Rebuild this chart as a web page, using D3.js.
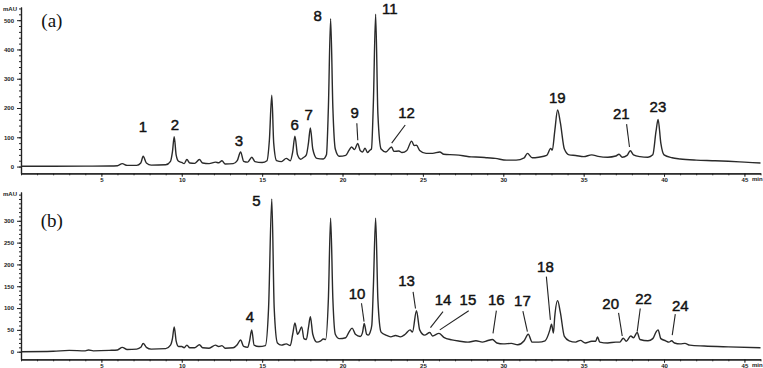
<!DOCTYPE html>
<html>
<head>
<meta charset="utf-8">
<script src="https://cdn.jsdelivr.net/npm/d3@7"></script>
<style>
  body { margin: 0; background: #fff; }
  .svg { display: block; }
  .tickText { font-family: "Liberation Sans", Arial, sans-serif; font-size: 6px; font-weight: bold; fill: #222; }
  .peakLabel { font-family: "Liberation Sans", Arial, sans-serif; font-size: 15px; fill: #111; stroke: #111; stroke-width: 0.45px; }
  .panelLabel { font-family: "Liberation Serif", "Times New Roman", serif; font-size: 19px; fill: #111; }
</style>
</head>
<body>
<svg class="svg" width="763" height="368"></svg>
<script>
// chromatogram (a): [time min, mAU]
let traceA = [[0,1],[2,1],[4,1.5],[5.5,2],[6.0,3],[6.3,10],[6.6,4],[7.2,4],[7.45,12],[7.6,35],[7.8,12],[8.1,5],
  [9.0,6],[9.3,18],[9.42,50],[9.53,102],[9.65,40],[9.8,18],[10.0,14],[10.15,10],[10.32,24],[10.5,12],[10.8,11],
  [11.1,24],[11.3,12],[11.7,10],[12.1,15],[12.3,13],[12.5,20],[12.7,9],[13.2,10],[13.45,20],[13.66,50],[13.85,18],
  [14.1,15],[14.36,32],[14.55,17],[15.0,14],[15.3,20],[15.45,90],[15.6,244],[15.72,80],[15.9,20],[16.2,17],
  [16.5,28],[16.75,20],[16.9,50],[17.04,104],[17.2,40],[17.4,25],[17.55,30],[17.75,40],[17.88,80],[18.0,132],
  [18.15,60],[18.4,28],[18.8,26],[19.0,40],[19.12,200],[19.26,505],[19.4,200],[19.55,60],[19.8,35],[20.2,38],
  [20.4,55],[20.56,67],[20.75,58],[20.94,79],[21.1,55],[21.25,50],[21.4,63],[21.55,48],[21.7,56],[21.8,60],
  [21.92,220],[22.06,520],[22.2,180],[22.4,60],[22.7,50],[23.05,67],[23.2,52],[23.5,53],[23.7,48],[24.0,55],
  [24.3,87],[24.45,72],[24.6,73],[24.8,55],[25.2,45],[25.6,45],[26.05,50],[26.3,42],[27,40],[27.5,37],[28,33],
  [28.6,32],[29,30],[29.5,28],[30.2,22],[30.8,22],[31.3,30],[31.5,45],[31.8,30],[32.2,32],[32.7,38],[32.95,62],
  [33.05,56],[33.2,120],[33.38,193],[33.55,150],[33.8,60],[34.1,40],[34.5,38],[35,34],[35.5,40],[35.9,35],
  [36.5,32],[37.0,36],[37.2,42],[37.4,32],[37.7,38],[37.9,54],[38.1,40],[38.5,34],[39.0,32],[39.3,40],[39.5,120],
  [39.63,161],[39.8,80],[40.0,40],[40.5,30],[41,26],[42,22],[43,20],[44,18],[45,15],[46,12]];

// chromatogram (b)
let traceB = [[0,0],[2,1],[3,3],[4,2],[4.2,4],[4.5,2],[5.5,3],[6.0,4],[6.3,10],[6.6,5],[7.2,6],[7.45,10],[7.6,19],
  [7.8,10],[8.1,6],[9.0,7],[9.3,15],[9.42,30],[9.53,57],[9.65,25],[9.8,12],[10.0,12],[10.15,9],[10.32,15],[10.5,9],
  [10.8,9],[11.1,16],[11.3,9],[11.7,8],[12.1,15],[12.3,12],[12.5,14],[12.7,8],[13.2,9],[13.45,16],[13.66,27],
  [13.85,12],[14.1,10],[14.22,25],[14.35,50],[14.5,15],[14.8,12],[15.2,14],[15.4,100],[15.6,350],[15.75,100],
  [15.95,20],[16.2,15],[16.5,18],[16.75,14],[16.9,40],[17.04,66],[17.2,40],[17.3,45],[17.46,57],[17.6,30],
  [17.75,28],[17.88,55],[18.0,80],[18.15,40],[18.4,22],[18.65,25],[18.8,29],[18.95,28],[19.12,120],[19.26,306],
  [19.4,120],[19.55,40],[19.8,30],[20.2,32],[20.4,45],[20.6,54],[20.8,40],[21.1,35],[21.25,45],[21.35,65],
  [21.5,40],[21.6,38],[21.7,43],[21.82,60],[21.92,150],[22.06,306],[22.2,120],[22.4,45],[22.7,38],[23.0,34],
  [23.3,37],[23.6,34],[23.9,40],[24.2,50],[24.35,45],[24.6,94],[24.8,50],[25.1,38],[25.43,44],[25.6,36],
  [26.0,42],[26.3,33],[26.8,27],[27.3,24],[27.8,22],[28.3,25],[28.7,22],[29.0,25],[29.33,28],[29.6,20],
  [30.0,18],[30.5,19],[30.9,16],[31.3,25],[31.55,40],[31.8,22],[32.2,22],[32.6,25],[32.9,50],[33.0,63],
  [33.12,43],[33.2,80],[33.38,117],[33.55,90],[33.8,35],[34.1,25],[34.5,22],[34.8,26],[35.1,20],[35.5,24],
  [35.75,24],[35.86,34],[36.0,22],[36.5,20],[37.0,22],[37.25,22],[37.46,31],[37.65,24],[37.93,36],[38.1,32],
  [38.33,44],[38.5,28],[39.0,25],[39.3,30],[39.5,45],[39.63,50],[39.8,30],[40.1,25],[40.3,22],[40.47,25],
  [40.65,20],[41.0,18],[41.3,19],[41.6,15],[42.5,13],[44,11],[46,9]];

// peak numbers: [text, time, mAU]
let labelsA = [['1',7.58,135],['2',9.57,142],['3',13.55,90],['6',17.03,142],['7',17.9,179],['8',18.46,515],
  ['9',20.76,183],['11',22.94,538],['12',23.98,184],['19',33.36,235],['21',37.34,182],['23',39.62,204]];
let labelsB = [['4',14.24,80],['5',14.65,346],['10',20.9,134],['13',23.98,163],['14',26.25,120],['15',27.8,120],
  ['16',29.57,120],['17',31.19,118],['18',32.62,195],['20',36.68,111],['22',38.73,122],['24',41.01,105]];

// leader lines: [t1, v1, t2, v2]
let leadersA = [[20.89,148,20.95,90],[23.9,142,23.06,80],[37.67,145,37.85,67]];
let leadersB = [[21.18,111,21.34,69],[24.39,137,24.54,99],[26.25,92,25.47,55],[27.85,94,26.05,50],
  [29.57,94,29.36,42],[31.22,93,31.5,46],[32.68,172,32.93,73],[37.17,89,37.4,36],[38.52,99,38.33,46],
  [40.7,86,40.51,38]];

let xTicks = [5,10,15,20,25,30,35,40,45];
let yTicksA = [0,100,200,300,400,500];
let yTicksB = [0,50,100,150,200,250,300];

let svg = d3.select('.svg');
let x = d3.scaleLinear().domain([0, 46]).range([21, 760.5]);

function drawPanel(trace, labels, leaders, yTicks, minorStep, yDomain, yRange, name) {
    let y = d3.scaleLinear().domain(yDomain).range(yRange);
    let g = svg.append('g').attr('class', 'panel');

    // minor y ticks
    g.append('g')
        .attr('transform', 'translate(' + x(0) + ',0)')
        .call(d3.axisLeft(y).tickValues(d3.range(0, yDomain[1], minorStep)).tickSize(2).tickSizeOuter(0).tickFormat(''));
    g.append('g')
        .attr('transform', 'translate(' + x(0) + ',0)')
        .call(d3.axisLeft(y).tickValues(yTicks).tickSize(4).tickSizeOuter(0).tickPadding(3))
        .selectAll('text').attr('class', 'tickText');

    let xAxisY = yRange[0];
    g.append('g')
        .attr('transform', 'translate(0,' + xAxisY + ')')
        .call(d3.axisBottom(x).tickValues(d3.range(0, 47, 1)).tickSize(2).tickSizeOuter(0).tickFormat(''));
    g.append('g')
        .attr('transform', 'translate(0,' + xAxisY + ')')
        .call(d3.axisBottom(x).tickValues(xTicks).tickSize(3.5).tickSizeOuter(0).tickPadding(1))
        .selectAll('text').attr('class', 'tickText');

    g.selectAll('.domain').style('stroke', '#222').style('stroke-width', 1.2);
    g.selectAll('.tick line').style('stroke', '#222');

    g.append('text').attr('class', 'tickText')
        .attr('x', 3).attr('y', y(yDomain[1]) + 4)
        .text('mAU');
    g.append('text').attr('class', 'tickText')
        .attr('x', 752).attr('y', xAxisY + 8)
        .text('min');

    let line = d3.line()
        .x(function (d) { return x(d[0]); })
        .y(function (d) { return y(d[1]); })
        .curve(d3.curveMonotoneX);
    g.append('path')
        .datum(trace)
        .attr('d', line)
        .attr('fill', 'none')
        .attr('stroke', '#2a2a2a')
        .attr('stroke-width', 1.4)
        .attr('stroke-linejoin', 'round');

    g.selectAll('.leader')
        .data(leaders)
        .enter()
        .append('line')
        .attr('class', 'leader')
        .attr('x1', function (d) { return x(d[0]); })
        .attr('y1', function (d) { return y(d[1]); })
        .attr('x2', function (d) { return x(d[2]); })
        .attr('y2', function (d) { return y(d[3]); })
        .style('stroke', '#222')
        .style('stroke-width', 1.1);

    g.selectAll('.peakLabel')
        .data(labels)
        .enter()
        .append('text')
        .attr('class', 'peakLabel')
        .attr('x', function (d) { return x(d[1]); })
        .attr('y', function (d) { return y(d[2]); })
        .attr('dy', '0.36em')
        .attr('text-anchor', 'middle')
        .text(function (d) { return d[0]; });

    g.append('text').attr('class', 'panelLabel')
        .attr('x', x(1.92)).attr('y', y(yTicks[yTicks.length - 1]) )
        .attr('dy', '0.35em')
        .attr('text-anchor', 'middle')
        .text(name);
}

drawPanel(traceA, labelsA, leadersA, yTicksA, 20, [-23, 545], [173.3, 7], '(a)');
drawPanel(traceB, labelsB, leadersB, yTicksB, 10, [-17.4, 366], [359.3, 192], '(b)');
</script>
</body>
</html>
